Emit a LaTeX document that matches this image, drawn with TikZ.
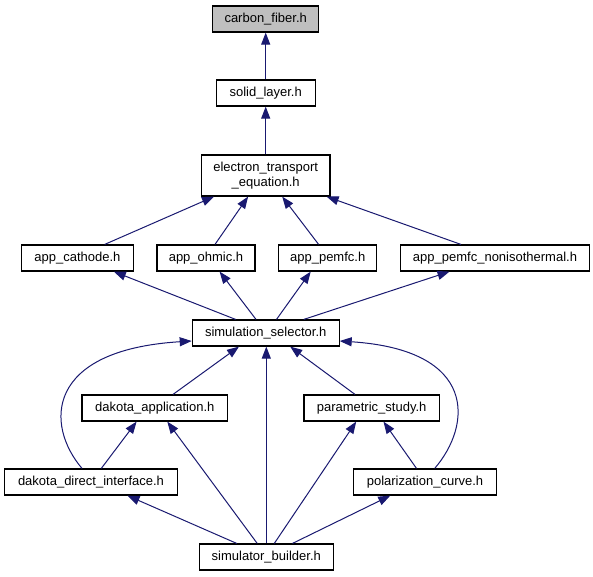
\documentclass[tikz,border=0pt]{standalone}
\usepackage{fontspec}
\setmainfont{Liberation Sans}
\usepackage{tikz}
\usetikzlibrary{arrows.meta}
\definecolor{midnightblue}{HTML}{191970}
\definecolor{boxgray}{HTML}{BFBFBF}
\tikzset{
	filebox/.style={draw=black, line width=1.2pt, inner sep=0pt, minimum height=26pt, font=\fontsize{13}{15}\selectfont},
	incl/.style={draw=midnightblue, line width=1pt, -{Triangle[length=12pt,width=9pt]}}
}

\begin{document}
\begin{tikzpicture}[x=1pt, y=-1pt]
		%%%%% START %%%%%
		
		\useasboundingbox (0, 0) rectangle (593, 576);
		
		\node[filebox, fill=boxgray, minimum width=106pt] (cf) at (265.7, 19) {carbon\_fiber.h};
		\node[filebox, minimum width=99pt] (sl) at (265.7, 93) {solid\_layer.h};
		\node[filebox, minimum width=128.6pt, minimum height=41pt, align=center] (ete) at (265.7, 175.5) {electron\_transport\\\_equation.h};
		
		\node[filebox, minimum width=111.5pt] (cat) at (77.4, 258) {app\_cathode.h};
		\node[filebox, minimum width=98pt] (ohm) at (206, 258) {app\_ohmic.h};
		\node[filebox, minimum width=98pt] (pem) at (327.7, 258) {app\_pemfc.h};
		\node[filebox, minimum width=189pt] (non) at (495, 258) {app\_pemfc\_nonisothermal.h};
		
		\node[filebox, minimum width=146.8pt] (sim) at (265.7, 333) {simulation\_selector.h};
		
		\node[filebox, minimum width=145.7pt] (dap) at (154.8, 408) {dakota\_application.h};
		\node[filebox, minimum width=135.4pt] (par) at (371.6, 408) {parametric\_study.h};
		
		\node[filebox, minimum width=173pt] (ddi) at (91, 482) {dakota\_direct\_interface.h};
		\node[filebox, minimum width=142.3pt] (pol) at (425, 482) {polarization\_curve.h};
		
		\node[filebox, minimum width=134.3pt] (sb) at (266.3, 557) {simulator\_builder.h};
		
		% upper chain
		\draw[incl] (sl.north) -- (cf.south);
		\draw[incl] (ete.north) -- (sl.south);
		
		\draw[incl] ([xshift=27.3pt]cat.north) -- ([xshift=-51.7pt]ete.south);
		\draw[incl] ([xshift=9pt]ohm.north) -- ([xshift=-17.6pt]ete.south);
		\draw[incl] ([xshift=-9.1pt]pem.north) -- ([xshift=16.5pt]ete.south);
		\draw[incl] ([xshift=-34.1pt]non.north) -- ([xshift=60.9pt]ete.south);
		
		\draw[incl] ([xshift=-30.1pt]sim.north) -- ([xshift=36.4pt]cat.south);
		\draw[incl] ([xshift=-9.7pt]sim.north) -- ([xshift=13.6pt]ohm.south);
		\draw[incl] ([xshift=10.8pt]sim.north) -- ([xshift=-17pt]pem.south);
		\draw[incl] ([xshift=38.1pt]sim.north) -- ([xshift=-45.5pt]non.south);
		
		% lower part
		\draw[incl] ([xshift=18.2pt]dap.north) -- ([xshift=-26.7pt]sim.south);
		\draw[incl] ([xshift=-16.6pt]par.north) -- ([xshift=24.5pt]sim.south);
		\draw[incl] (sb.north) -- (sb.north |- sim.south);
		\draw[incl] ([xshift=-9pt]ddi.north) .. controls (45, 425) and (45, 350) .. ([yshift=-8pt]sim.west);
		\draw[incl] ([xshift=9.7pt]pol.north) .. controls (472, 425) and (478, 350) .. ([yshift=-8pt]sim.east);
		
		\draw[incl] ([xshift=10.3pt]ddi.north) -- ([xshift=-18.2pt]dap.south);
		\draw[incl] ([xshift=-9.1pt]sb.north) -- ([xshift=12.5pt]dap.south);
		\draw[incl] ([xshift=8pt]sb.north) -- ([xshift=-15.4pt]par.south);
		\draw[incl] ([xshift=-8.5pt]pol.north) -- ([xshift=11.9pt]par.south);
		
		\draw[incl] ([xshift=-29.6pt]sb.north) -- ([xshift=36.5pt]ddi.south);
		\draw[incl] ([xshift=26.2pt]sb.north) -- ([xshift=-34.7pt]pol.south);
		
		%%%%% END %%%%%
	\end{tikzpicture}
\end{document}
